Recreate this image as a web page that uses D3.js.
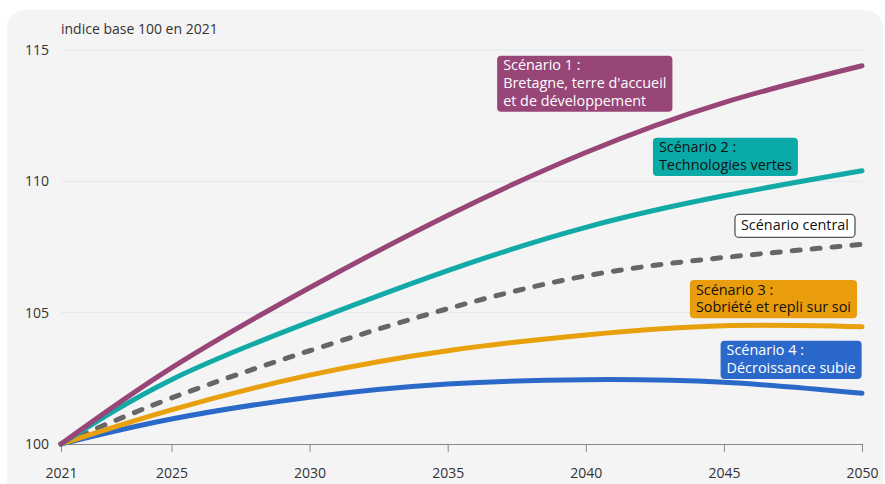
<!DOCTYPE html>
<html>
<head>
<meta charset="utf-8">
<script src="https://cdn.jsdelivr.net/npm/d3@7"></script>
<style>
  body { margin: 0; background: #fff; }
  svg { display: block; font-family: "Open Sans", "Noto Sans", sans-serif; }
</style>
</head>
<body>
<svg id="chart"></svg>
<script>
// Données
const years = [2021, 2025, 2030, 2035, 2040, 2045, 2050]
const scen1 = [100, 102.9, 105.95, 108.7, 111.1, 113.0, 114.4]
const scen2 = [100, 102.45, 104.65, 106.6, 108.25, 109.45, 110.4]
const central = [100, 101.75, 103.55, 105.15, 106.4, 107.1, 107.6]
const scen3 = [100, 101.3, 102.62, 103.55, 104.15, 104.5, 104.46]
const scen4 = [100, 100.95, 101.78, 102.28, 102.45, 102.35, 101.93]

const yTicks = [100, 105, 110, 115]
const xTicks = [2021, 2025, 2030, 2035, 2040, 2045, 2050]

const width = 885
const height = 484
const margin = { left: 61, right: 23, top: 50, bottom: 40 }

const series = [
  { name: "central", values: central, color: "#666666", dash: "8,12" },
  { name: "s4", values: scen4, color: "#2b69c9" },
  { name: "s3", values: scen3, color: "#e9a00d" },
  { name: "s2", values: scen2, color: "#12aaa7" },
  { name: "s1", values: scen1, color: "#984577" }
]

// étiquettes des scénarios (coin haut-gauche en coordonnées des données)
const labels = [
  { lines: ["Scénario 1 :", "Bretagne, terre d'accueil", "et de développement"], x: 2036.79, y: 114.78, fill: "#984577", text: "#fff" },
  { lines: ["Scénario 2 :", "Technologies vertes"], x: 2042.43, y: 111.66, fill: "#0aaaa8", text: "#111" },
  { lines: ["Scénario central"], x: 2045.4, y: 108.74, fill: "#fff", text: "#111", stroke: "#555" },
  { lines: ["Scénario 3 :", "Sobriété et repli sur soi"], x: 2043.77, y: 106.24, fill: "#e99d0c", text: "#111" },
  { lines: ["Scénario 4 :", "Décroissance subie"], x: 2044.88, y: 103.93, fill: "#2a69cb", text: "#fff" }
]

const svg = d3.select("#chart").attr("width", width).attr("height", height)

// fond
svg.append("rect").attr("x", 7).attr("y", 10).attr("width", 876).attr("height", 490)
  .attr("rx", 18).attr("fill", "#f4f4f4")

const x = d3.scaleLinear().domain([2021, 2050]).range([margin.left, width - margin.right])
const y = d3.scaleLinear().domain([100, 115]).range([height - margin.bottom, margin.top])

// grille
svg.append("g").selectAll("line").data(yTicks.filter(d => d > 100)).join("line")
  .attr("x1", x(2021)).attr("x2", x(2050))
  .attr("y1", d => y(d)).attr("y2", d => y(d))
  .attr("stroke", "#e2e8f0").attr("stroke-width", 1)

// axe y (labels seulement)
svg.append("g").selectAll("text").data(yTicks).join("text")
  .attr("x", 49).attr("y", d => y(d) + 5)
  .attr("text-anchor", "end").attr("font-size", 14).attr("fill", "#333")
  .text(d => d)

svg.append("text").attr("x", 61).attr("y", 34)
  .attr("font-size", 14).attr("fill", "#333").text("indice base 100 en 2021")

// axe x
const xAxis = svg.append("g").attr("transform", `translate(0,${y(100)})`)
  .call(d3.axisBottom(x).tickValues(xTicks).tickFormat(d3.format("d")).tickSize(8).tickPadding(16).tickSizeOuter(0))
xAxis.select(".domain").attr("stroke", "#888")
xAxis.selectAll(".tick line").attr("stroke", "#888")
xAxis.selectAll(".tick text").attr("font-size", 14).attr("fill", "#333")
  .attr("font-family", "'Open Sans', 'Noto Sans', sans-serif")

// courbes
const line = d3.line()
  .x((d, i) => x(years[i]))
  .y(d => y(d))
  .curve(d3.curveNatural)

svg.append("g").selectAll("path").data(series).join("path")
  .attr("d", d => line(d.values))
  .attr("fill", "none")
  .attr("stroke", d => d.color)
  .attr("stroke-width", 5)
  .attr("stroke-linecap", "round")
  .attr("stroke-dasharray", d => d.dash || null)

// étiquettes
const lab = svg.append("g").selectAll("g").data(labels).join("g")
  .attr("transform", d => `translate(${x(d.x)},${y(d.y)})`)

lab.each(function (d) {
  const g = d3.select(this)
  const rect = g.append("rect")
  const extra = d.stroke ? 2.5 : 0
  const t = g.append("text").attr("font-size", 14.4).attr("fill", d.text)
  t.selectAll("tspan").data(d.lines).join("tspan")
    .attr("x", 6).attr("y", (l, i) => 14.5 + extra / 2 + i * 17.7)
    .text(l => l)
  const bb = t.node().getBBox()
  rect.attr("x", 0).attr("y", 0)
    .attr("width", bb.width + 12).attr("height", 20.5 + (d.lines.length - 1) * 17.7 + extra)
    .attr("rx", 4)
    .attr("fill", d.fill)
    .attr("stroke", d.stroke || "none")
    .attr("stroke-width", 1.3)
})
</script>
</body>
</html>
